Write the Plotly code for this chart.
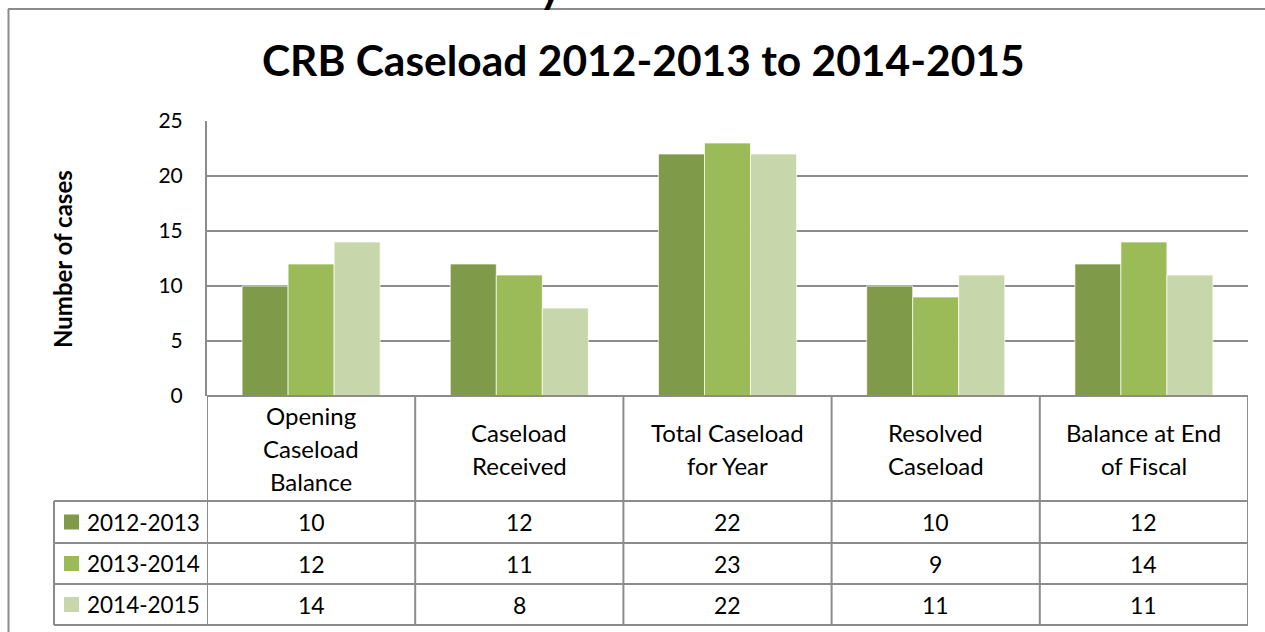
import plotly.graph_objects as go

# Chart data
categories = [
    ["Opening", "Caseload", "Balance"],
    ["Caseload", "Received"],
    ["Total Caseload", "for Year"],
    ["Resolved", "Caseload"],
    ["Balance at End", "of Fiscal"],
]
series_names = ["2012-2013", "2013-2014", "2014-2015"]
values_2012_2013 = [10, 12, 22, 10, 12]
values_2013_2014 = [12, 11, 23, 9, 14]
values_2014_2015 = [14, 8, 22, 11, 11]
y_ticks = [0, 5, 10, 15, 20, 25]

series_values = [values_2012_2013, values_2013_2014, values_2014_2015]
colors = ["#7F9A48", "#9BBB59", "#C7D6AB"]

FONT = "Lato"
W_FIG, H_FIG = 1265, 632
L, R, T, B = 207, 1248, 121, 396
GRID = "#8C8C8C"


def px(x):
    return (x - L) / (R - L)


def py(y):
    return (B - y) / (B - T)


xs = list(range(len(categories)))
fig = go.Figure()
for name, vals, col in zip(series_names, series_values, colors):
    fig.add_trace(go.Bar(
        x=xs, y=vals, name=name,
        marker=dict(color=col, line=dict(color="rgba(255,255,255,0.7)", width=1)),
        showlegend=False,
    ))

shapes = []
# outer frame
shapes.append(dict(type="line", xref="paper", yref="paper", x0=px(8.5), x1=px(8.5),
                   y0=py(9), y1=py(640), line=dict(color=GRID, width=2)))
shapes.append(dict(type="line", xref="paper", yref="paper", x0=px(8), x1=px(1270),
                   y0=py(9), y1=py(9), line=dict(color=GRID, width=2)))

# data table grid
row_lines = [501, 543, 584, 625]
for yl in row_lines:
    shapes.append(dict(type="line", xref="paper", yref="paper", x0=px(54), x1=px(R),
                       y0=py(yl), y1=py(yl), line=dict(color=GRID, width=2)))
shapes.append(dict(type="line", xref="paper", yref="paper", x0=px(L), x1=px(R),
                   y0=py(B), y1=py(B), line=dict(color=GRID, width=2)))
shapes.append(dict(type="line", xref="paper", yref="paper", x0=px(54), x1=px(54),
                   y0=py(501), y1=py(625), line=dict(color=GRID, width=2)))
for i in range(len(categories) + 1):
    xb = i - 0.5
    shapes.append(dict(type="line", xref="x", yref="paper", x0=xb, x1=xb,
                       y0=py(B), y1=py(625), line=dict(color=GRID, width=2)))

annotations = []
# category header cells
header_mid = (B + 501) / 2
line_gap = 33
for i, lines in enumerate(categories):
    n = len(lines)
    for k, txt in enumerate(lines):
        yc = header_mid + (k - (n - 1) / 2) * line_gap
        annotations.append(dict(x=i, y=py(yc), xref="x", yref="paper", text=txt,
                                showarrow=False, xanchor="center", yanchor="middle",
                                font=dict(family=FONT, size=24, color="#000")))

# value rows with legend keys
row_centers = [(row_lines[j] + row_lines[j + 1]) / 2 for j in range(3)]
for name, vals, col, yc in zip(series_names, series_values, colors, row_centers):
    shapes.append(dict(type="rect", xref="paper", yref="paper", x0=px(64), x1=px(79),
                       y0=py(yc - 7.5), y1=py(yc + 7.5), fillcolor=col, line=dict(width=0)))
    annotations.append(dict(x=px(85), y=py(yc), xref="paper", yref="paper", text=name,
                            showarrow=False, xanchor="left", yanchor="middle",
                            font=dict(family=FONT, size=22.5, color="#000")))
    for i, v in enumerate(vals):
        annotations.append(dict(x=i, y=py(yc), xref="x", yref="paper", text=str(v),
                                showarrow=False, xanchor="center", yanchor="middle",
                                font=dict(family=FONT, size=23, color="#000")))

# y-axis title
annotations.append(dict(x=px(62), y=py(259), xref="paper", yref="paper",
                        text="<b>Number of cases</b>", textangle=-90, showarrow=False,
                        xanchor="center", yanchor="middle",
                        font=dict(family=FONT, size=24, color="#000")))
# chart title
annotations.append(dict(x=px(643), y=py(60), xref="paper", yref="paper",
                        text="<b>CRB Caseload 2012-2013 to 2014-2015</b>", showarrow=False,
                        xanchor="center", yanchor="middle",
                        font=dict(family=FONT, size=42.5, color="#000")))
# heading text above the frame, cut by the page edge
annotations.append(dict(x=px(551), y=py(-14), xref="paper", yref="paper",
                        text="<b>y</b>", showarrow=False,
                        xanchor="center", yanchor="middle",
                        font=dict(family=FONT, size=44, color="#000")))

fig.update_layout(
    width=W_FIG, height=H_FIG,
    margin=dict(l=L, r=W_FIG - R, t=T, b=H_FIG - B, pad=0),
    paper_bgcolor="white", plot_bgcolor="white",
    barmode="group", bargap=0.337, bargroupgap=0,
    shapes=shapes, annotations=annotations,
    font=dict(family=FONT),
    xaxis=dict(range=[-0.5, len(categories) - 0.5], showticklabels=False,
               showgrid=False, zeroline=False, showline=False, fixedrange=True),
    yaxis=dict(range=[0, 25], tickvals=y_ticks, showgrid=True, gridcolor=GRID, gridwidth=2,
               zeroline=False, showline=True, linecolor=GRID, linewidth=2,
               ticks="", ticklabelstandoff=18,
               tickfont=dict(family=FONT, size=21, color="#000"), fixedrange=True),
)

fig.write_html("out.html")
